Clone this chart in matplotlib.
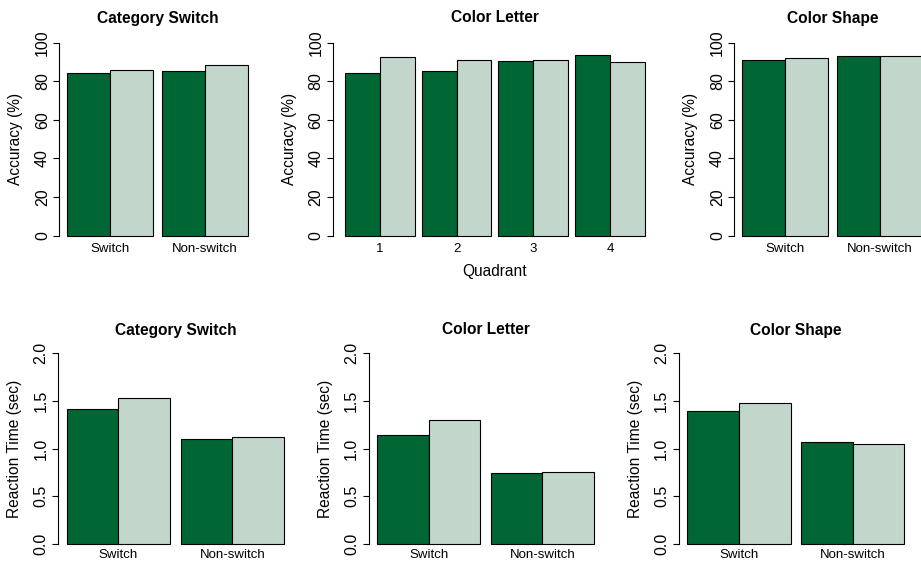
import matplotlib
matplotlib.use("Agg")
import matplotlib.pyplot as plt

plt.rcParams["font.family"] = ["Liberation Sans", "DejaVu Sans"]

# ---- data -------------------------------------------------------------
conditions = ["Switch", "Non-switch"]
quadrants = ["1", "2", "3", "4"]

acc_category_dark = [84.1, 85.5]
acc_category_light = [85.9, 88.3]
acc_letter_dark = [84.1, 85.3, 90.4, 93.8]
acc_letter_light = [92.4, 91.0, 90.9, 89.8]
acc_shape_dark = [91.0, 92.9]
acc_shape_light = [92.2, 93.1]

rt_category_dark = [1.42, 1.10]
rt_category_light = [1.53, 1.12]
rt_letter_dark = [1.14, 0.74]
rt_letter_light = [1.30, 0.76]
rt_shape_dark = [1.40, 1.07]
rt_shape_light = [1.48, 1.05]

acc_ticks = [0, 20, 40, 60, 80, 100]
acc_tick_labels = ["0", "20", "40", "60", "80", "100"]
rt_ticks = [0.0, 0.5, 1.0, 1.5, 2.0]
rt_tick_labels = ["0.0", "0.5", "1.0", "1.5", "2.0"]

DARK = "#006633"
LIGHT = "#c2d6cc"

W, H = 921, 562
fig = plt.figure(figsize=(W / 100, H / 100), dpi=100)
PX = 72 / 100  # points per pixel


def panel(left, right, top, bottom, title, names, dark, light, ymax,
          ticks, tick_labels, ylabel, title_y, xlabel=None, xlabel_y=None,
          xtick_y=None):
    """Grouped bar panel in the style of R's barplot(beside=TRUE)."""
    ax = fig.add_axes([left / W, 1 - bottom / H, (right - left) / W,
                       (bottom - top) / H])
    n = len(names)
    gap = 0.2
    lefts_d = [gap + g * (2 + gap) for g in range(n)]
    cen_d = [l + 0.5 for l in lefts_d]
    cen_l = [l + 1.5 for l in lefts_d]
    ax.bar(cen_d, dark, width=1.0, color=DARK, edgecolor="black",
           linewidth=0.8)
    ax.bar(cen_l, light, width=1.0, color=LIGHT, edgecolor="black",
           linewidth=0.8)
    x0, x1 = gap, lefts_d[-1] + 2
    dx = 0.04 * (x1 - x0)
    ax.set_xlim(x0 - dx, x1 + dx)
    ax.set_ylim(-0.04 * ymax, 1.04 * ymax)

    for s in ("top", "right", "bottom"):
        ax.spines[s].set_visible(False)
    ax.spines["left"].set_bounds(0, ymax)
    ax.spines["left"].set_linewidth(0.8)
    ax.set_yticks(ticks)
    ax.set_yticklabels(tick_labels, rotation=90, va="center", ha="center")
    ax.tick_params(axis="y", length=6 * PX, width=0.8, labelsize=11.5,
                   pad=11 * PX)
    centers = [l + 1 for l in lefts_d]
    ax.set_xticks(centers)
    ax.set_xticklabels(names, va="center")
    hpx = bottom - top
    ax.tick_params(axis="x", length=0, labelsize=9.5,
                   pad=(xtick_y - bottom) * PX)
    ax.set_ylabel(ylabel, fontsize=11.2, va="center")
    ax.yaxis.set_label_coords(-43.5 / (right - left), 0.5)
    if xlabel:
        ax.set_xlabel(xlabel, fontsize=11.2, va="center")
        ax.xaxis.set_label_coords(0.5, (bottom - xlabel_y) / hpx)
    ax.set_title(title, fontsize=11.2, fontweight="bold", va="center",
                 y=(bottom - title_y) / hpx, pad=0)
    return ax


# top row: accuracy
TOP_T, TOP_B = 35.0, 243.4
panel(59.4, 255.4, TOP_T, TOP_B, "Category Switch", conditions,
      acc_category_dark, acc_category_light, 100, acc_ticks,
      acc_tick_labels, "Accuracy (%)", 18.0, xtick_y=248.5)
panel(333.0, 656.9, TOP_T, TOP_B, "Color Letter", quadrants,
      acc_letter_dark, acc_letter_light, 100, acc_ticks, acc_tick_labels,
      "Accuracy (%)", 18.0, xlabel="Quadrant", xlabel_y=271.5,
      xtick_y=248.5)
panel(734.4, 930.4, TOP_T, TOP_B, "Color Shape", conditions,
      acc_shape_dark, acc_shape_light, 100, acc_ticks, acc_tick_labels,
      "Accuracy (%)", 18.0, xtick_y=248.5)

# bottom row: reaction time
BOT_T, BOT_B = 345.7, 551.6
panel(58.0, 292.7, BOT_T, BOT_B, "Category Switch", conditions,
      rt_category_dark, rt_category_light, 2.0, rt_ticks, rt_tick_labels,
      "Reaction Time (sec)", 330.0, xtick_y=555.5)
panel(368.6, 602.5, BOT_T, BOT_B, "Color Letter", conditions,
      rt_letter_dark, rt_letter_light, 2.0, rt_ticks, rt_tick_labels,
      "Reaction Time (sec)", 330.0, xtick_y=555.5)
panel(678.6, 913.1, BOT_T, BOT_B, "Color Shape", conditions,
      rt_shape_dark, rt_shape_light, 2.0, rt_ticks, rt_tick_labels,
      "Reaction Time (sec)", 330.0, xtick_y=555.5)

fig.savefig("out.png", dpi=100)
